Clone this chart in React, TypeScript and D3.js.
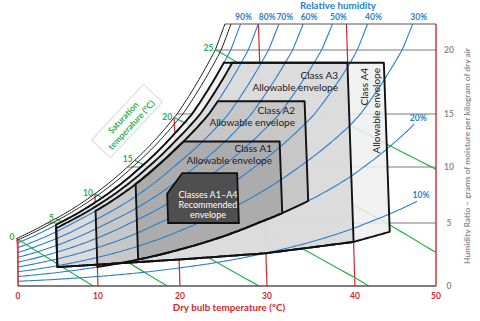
import React from 'react';
import * as d3 from 'd3';

// ---- data ----
const dryBulbTicks = [0, 10, 20, 30, 40, 50];
const humidityTicks = [0, 5, 10, 15, 20];
const humidityTop = 21.5;
const rhLevels = [10, 20, 30, 40, 50, 60, 70, 80, 90];
const satTempLevels = [0, 5, 10, 15, 20, 25];
const satBandRh = 96; // inner thin line of the saturation band

const envNames = ['A4', 'A3', 'A2', 'A1'];
const envTMin = [5, 5, 10, 15];
const envTMax = [44.5, 40, 35, 32];
const envRhMax = [90, 85, 80, 80];
const envWMax = [19, 19, 16, 12.4];
const envLowerRh = [0, 0, 20, 20]; // 0 -> common lower boundary
const envFill = ['#efefef', '#d9d9d9', '#c4c4c4', '#a8a8a8'];

const baseLowerT = [5, 10, 20, 30, 40, 44.5];
const baseLowerW = [1.5, 1.7, 2.1, 2.6, 3.5, 4.3];

const recT = [18.8, 18.8, 20.7, 27, 27];
const recW = [5.0, 7.6, 9.46, 9.46, 5.0];

const FONT = "Lato, 'Open Sans', sans-serif";
const RED = '#d7262b';
const GREEN = '#2bb24c';
const BLUE = '#2a7fd0';
const GRAY = '#8c8c8c';

export default function App() {
  const width = 480, height = 321;
  const xs = d3.scaleLinear().domain(dryBulbTicks).range([18, 98, 180, 267, 355, 436]);
  const ys = d3.scaleLinear().domain([...humidityTicks, humidityTop]).range([286, 223, 167, 114, 50, 24]);
  const SKEW = 0.4;
  const P = 101.325;
  const ps = (t: number) => 0.61094 * Math.exp((17.625 * t) / (t + 243.04));
  const wOf = (t: number, phi: number) => (622 * phi * ps(t)) / (P - phi * ps(t));
  const tOfW = (w: number, phi: number) => {
    let lo = -20, hi = 80;
    for (let i = 0; i < 60; i++) {
      const m = (lo + hi) / 2;
      if (wOf(m, phi) < w) lo = m; else hi = m;
    }
    return (lo + hi) / 2;
  };
  const px = (t: number, w: number) => xs(t) - SKEW * w;
  const line = d3.line<[number, number]>().x(d => px(d[0], d[1])).y(d => ys(d[1]));
  const baseLower = d3.scaleLinear().domain(baseLowerT).range(baseLowerW).clamp(true);

  const xRight = xs(50);
  const yTop = ys(humidityTop);
  const yBottom = ys(0);

  const rhCurve = (phi: number, tEndMax: number) => {
    const tTop = tOfW(humidityTop, phi);
    const atTop = tTop <= tEndMax + 0.5;
    const tEnd = atTop ? tTop : tEndMax;
    const pts: [number, number][] = d3.range(0, tEnd, 0.25).map(t => [t, wOf(t, phi)] as [number, number]);
    pts.push([tEnd, atTop ? humidityTop : wOf(tEnd, phi)]);
    return { pts, tTop, tEnd, atTop };
  };

  // saturation curve
  const sat = rhCurve(1, 80);
  const satPath = line(sat.pts) as string;
  const band = rhCurve(satBandRh / 100, 80);
  const bandPath = line(band.pts) as string;
  const clipPath = satPath + `L${xRight},${yTop}L${xRight},${yBottom}L${xs(0)},${yBottom}Z`;

  // dry bulb lines
  const redLines = dryBulbTicks.slice(0, -1).map(t => {
    const wMax = Math.min(wOf(t, 1), humidityTop);
    return line([[t, 0], [t, wMax]]) as string;
  });

  // horizontal grid lines
  const grid = humidityTicks.slice(1).map(w => ({ w, x1: px(tOfW(w, 1), w), x2: xRight, y: ys(w) }));

  // wet bulb / saturation temperature lines
  const greenLines = satTempLevels.map(twb => {
    const ws = wOf(twb, 1);
    const h = 1.006 * twb + (ws * (2501 + 1.86 * twb)) / 1000;
    const tEnd = Math.min(h / 1.006, 60);
    const wAt = (t: number) => Math.max(0, ((h - 1.006 * t) * 1000) / (2501 + 1.86 * t));
    const pts: [number, number][] = d3.range(twb, tEnd, 0.5).map(t => [t, wAt(t)] as [number, number]);
    pts.push([tEnd, wAt(tEnd)]);
    return { twb, ws, d: line(pts) as string };
  });

  // RH curves
  const labelNudge: Record<number, number> = { 90: -3, 80: 3 };
  const blue = rhLevels.map(rh => {
    const phi = rh / 100;
    const c = rhCurve(phi, 48);
    const last = c.pts[c.pts.length - 1];
    return { rh, d: line(c.pts) as string, atTop: c.atTop, ex: px(last[0], last[1]), ey: ys(last[1]) };
  });

  // envelopes
  const envPaths = envNames.map((name, i) => {
    const phi = envRhMax[i] / 100;
    const lower = (t: number) => (envLowerRh[i] ? wOf(t, envLowerRh[i] / 100) : baseLower(t));
    const upper = (t: number) => Math.min(wOf(t, phi), envWMax[i]);
    const tc = tOfW(envWMax[i], phi);
    const ts = d3.range(envTMin[i], envTMax[i], 0.25).concat([envTMax[i]]);
    if (tc > envTMin[i] && tc < envTMax[i]) ts.push(tc);
    ts.sort((a, b) => a - b);
    const pts: [number, number][] = [[envTMin[i], lower(envTMin[i])]];
    ts.forEach(t => pts.push([t, upper(t)]));
    [...ts].reverse().forEach(t => pts.push([t, lower(t)]));
    return { name, d: (line(pts) as string) + 'Z', fill: envFill[i] };
  });
  const recPath = (line(recT.map((t, i) => [t, recW[i]] as [number, number])) as string) + 'Z';

  const satLabelPos = greenLines.map(g => ({ t: g.twb, x: px(g.twb, g.ws), y: ys(g.ws) }));

  return (
    <svg width={width} height={height} style={{ display: 'block', position: 'absolute', left: 0, top: 0 }} fontFamily={FONT}>
      <defs>
        <clipPath id="chartClip"><path d={clipPath} /></clipPath>
      </defs>
      <rect width={width} height={height} fill="#fff" />
      <g clipPath="url(#chartClip)">
        {grid.map(g => (
          <line key={g.w} x1={g.x1} x2={g.x2} y1={g.y} y2={g.y} stroke="#a6a6a6" strokeWidth={1.4} />
        ))}
        {redLines.map((d, i) => <path key={i} d={d} stroke={RED} strokeWidth={1.2} fill="none" />)}
        {greenLines.map(g => <path key={g.twb} d={g.d} stroke={GREEN} strokeWidth={1.2} fill="none" />)}
        {envPaths.map(e => <path key={e.name} d={e.d} fill={e.fill} fillOpacity={0.86} stroke="none" />)}
        {blue.map(b => <path key={b.rh} d={b.d} stroke={BLUE} strokeWidth={1.1} fill="none" />)}
      </g>
      <path d={recPath} fill="#4f4f4f" stroke="#111" strokeWidth={1.8} />
      {envPaths.map(e => <path key={e.name} d={e.d} fill="none" stroke="#111" strokeWidth={1.9} strokeLinejoin="round" />)}
      <path d={satPath} fill="none" stroke="#222" strokeWidth={1} />
      <path d={bandPath} fill="none" stroke="#222" strokeWidth={1} />
      {/* frame */}
      <line x1={px(sat.tEnd, humidityTop)} x2={xRight} y1={yTop} y2={yTop} stroke="#555" strokeWidth={1.2} />
      <line x1={xs(0)} x2={xRight} y1={yBottom} y2={yBottom} stroke="#555" strokeWidth={1.5} />
      <line x1={xRight} x2={xRight} y1={yTop} y2={yBottom} stroke={RED} strokeWidth={1.4} />
      <line x1={xs(0)} x2={xs(0)} y1={ys(wOf(0, 1))} y2={yBottom} stroke={RED} strokeWidth={1.4} />

      {/* x ticks */}
      {dryBulbTicks.map(t => (
        <text key={t} x={xs(t)} y={299} fill={RED} fontSize={8.5} fontWeight={700} textAnchor="middle">{t}</text>
      ))}
      <text x={229} y={311} fill={RED} fontSize={9.8} fontWeight={700} textAnchor="middle">Dry bulb temperature (°C)</text>

      {/* y ticks */}
      {humidityTicks.map(w => (
        <text key={w} x={449} y={ys(w) + 3} fill={GRAY} fontSize={8.5} fontWeight={700} textAnchor="middle">{w}</text>
      ))}
      <text transform="translate(470,156) rotate(-90)" fill={GRAY} fontSize={8.4} fontWeight={700} textAnchor="middle">
        Humidity Ratio – grams of moisture per kilogram of dry air
      </text>

      {/* RH labels */}
      <text x={338} y={9} fill={BLUE} fontSize={9.8} fontWeight={700} textAnchor="middle">Relative humidity</text>
      {blue.map(b =>
        b.atTop ? (
          <text key={b.rh} x={b.ex + 6 + (labelNudge[b.rh] || 0)} y={20} fill={BLUE} fontSize={8.5} fontWeight={700} textAnchor="middle">{b.rh}%</text>
        ) : (
          <text key={b.rh} x={b.ex + 4} y={b.ey - 3} fill={BLUE} fontSize={8.5} fontWeight={700} textAnchor="middle">{b.rh}%</text>
        )
      )}

      {/* saturation temperature labels */}
      {satLabelPos.map(s => (
        <text key={s.t} x={s.x - 2} y={s.y + 2} fill={GREEN} fontSize={8.5} fontWeight={700} textAnchor="end">{s.t}</text>
      ))}
      <g transform="translate(127,121) rotate(-47)">
        <rect x={-38} y={-13} width={76} height={26} fill="#fff" stroke="#d4dcd4" strokeWidth={1} />
        <text x={0} y={-2} fill={GREEN} fontSize={8.6} fontWeight={700} textAnchor="middle">Saturation</text>
        <text x={0} y={9} fill={GREEN} fontSize={8.6} fontWeight={700} textAnchor="middle">temperature (°C)</text>
      </g>

      {/* envelope labels */}
      <text x={338} y={79} fontSize={10} fill="#1a1a1a" textAnchor="end">Class A3</text>
      <text x={338} y={91} fontSize={10} fill="#1a1a1a" textAnchor="end">Allowable envelope</text>
      <text x={295} y={114} fontSize={10} fill="#1a1a1a" textAnchor="end">Class A2</text>
      <text x={295} y={126} fontSize={10} fill="#1a1a1a" textAnchor="end">Allowable envelope</text>
      <text x={272} y={152} fontSize={10} fill="#1a1a1a" textAnchor="end">Class A1</text>
      <text x={272} y={164} fontSize={10} fill="#1a1a1a" textAnchor="end">Allowable envelope</text>
      <text transform="translate(368,68) rotate(-90)" fontSize={10} fill="#1a1a1a" textAnchor="end">Class A4</text>
      <text transform="translate(380,68) rotate(-90)" fontSize={10} fill="#1a1a1a" textAnchor="end">Allowable envelope</text>
      <text x={208} y={198} fontSize={9} fill="#fff" textAnchor="middle">Classes A1–A4</text>
      <text x={208} y={208} fontSize={9} fill="#fff" textAnchor="middle">Recommended</text>
      <text x={208} y={218} fontSize={9} fill="#fff" textAnchor="middle">envelope</text>
    </svg>
  );
}
